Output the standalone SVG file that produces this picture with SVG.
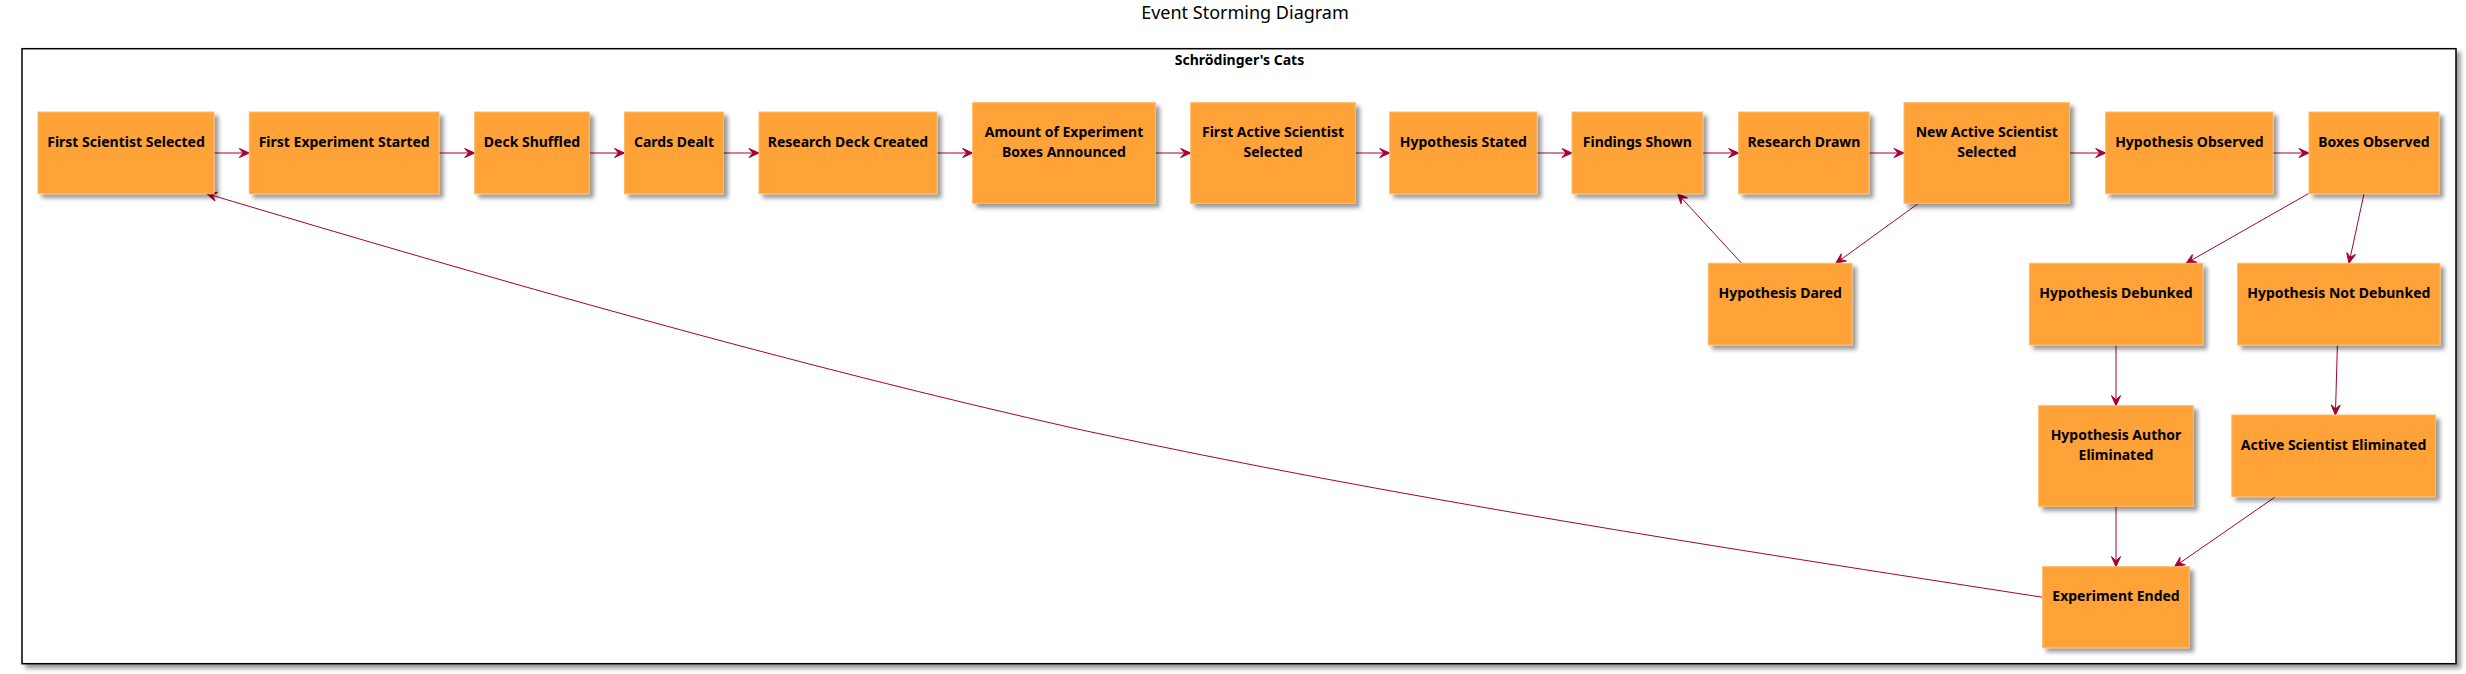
<svg xmlns="http://www.w3.org/2000/svg" width="2466" height="674" viewBox="0 0 2466 674">
<style>
.bg{fill:#FFFFFF}
.node rect{fill:#FFA238;stroke:#FFBA66;stroke-width:1;filter:url(#sh)}
.lbl{font-family:"Noto Sans","Liberation Sans",sans-serif;font-size:14px;font-weight:bold;fill:#000000;text-anchor:middle}
.edge{fill:none;stroke:#A80036;stroke-width:1;marker-end:url(#arr)}
.title{font-family:"Noto Sans","Liberation Sans",sans-serif;font-size:18px;fill:#000000;text-anchor:middle}
.frame{fill:#FFFFFF;stroke:#000000;stroke-width:1.5;filter:url(#sh)}
</style>
<defs>
<filter id="sh" x="-10%" y="-10%" width="130%" height="130%">
<feDropShadow dx="4" dy="4" stdDeviation="2" flood-color="#000000" flood-opacity="0.4"/>
</filter>
<marker id="arr" markerUnits="userSpaceOnUse" viewBox="-12 -6 14 12" refX="0" refY="0" markerWidth="14" markerHeight="12" orient="auto" overflow="visible">
<path d="M0,0 L-10,-4.5 L-6,0 L-10,4.5 Z" fill="#A80036" stroke="#A80036" stroke-width="1"/>
</marker>
</defs>
<rect class="bg" x="0" y="0" width="2466" height="674"/>
<text class="title" x="1245" y="19">Event Storming Diagram</text>
<g id="frame">
<rect class="frame" x="22" y="48.7" width="2434" height="615"/>
<text class="lbl" x="1239.5" y="64.5">Schrödinger's Cats</text>
</g>
<g id="connectors">
<path class="edge" d="M214,153 L249.3,153"/>
<path class="edge" d="M439,153 L474.7,153"/>
<path class="edge" d="M589.3,153 L624.5,153"/>
<path class="edge" d="M723.5,153 L759,153"/>
<path class="edge" d="M937,153 L972.7,153"/>
<path class="edge" d="M1155.3,153 L1190.7,153"/>
<path class="edge" d="M1355.3,153 L1389.7,153"/>
<path class="edge" d="M1537,153 L1572,153"/>
<path class="edge" d="M1702.6,153 L1738.7,153"/>
<path class="edge" d="M1869,153 L1904,153"/>
<path class="edge" d="M2069.5,153 L2105.7,153"/>
<path class="edge" d="M2273,153 L2309,153"/>
<path class="edge" d="M1741.6,263.3 L1677.6,193.7"/>
<path class="edge" d="M1918.5,203.3 L1835.8,263.3"/>
<path class="edge" d="M2308.3,193.7 L2186,263.3"/>
<path class="edge" d="M2364,193.7 L2349,263.3"/>
<path class="edge" d="M2116,345 L2116,405.7"/>
<path class="edge" d="M2337.4,345 L2335.4,415"/>
<path class="edge" d="M2116,505.7 L2116,566.7"/>
<path class="edge" d="M2275.5,496.7 L2174.5,566.7"/>
<path class="edge" d="M2042.7,597.3 C1722.7,547.7 1401.7,498.8 1081.7,430 C791.7,365 496.7,280.3 206.7,193.7"/>
</g>
<g id="n1" class="node"><rect x="38" y="112" width="176" height="81.7"/><text class="lbl" x="126" y="147">First Scientist Selected</text></g>
<g id="n2" class="node"><rect x="249.3" y="112" width="189.7" height="81.7"/><text class="lbl" x="344.2" y="147">First Experiment Started</text></g>
<g id="n3" class="node"><rect x="474.7" y="112" width="114.6" height="81.7"/><text class="lbl" x="532" y="147">Deck Shuffled</text></g>
<g id="n4" class="node"><rect x="624.5" y="112" width="99" height="81.7"/><text class="lbl" x="674" y="147">Cards Dealt</text></g>
<g id="n5" class="node"><rect x="759" y="112" width="178" height="81.7"/><text class="lbl" x="848" y="147">Research Deck Created</text></g>
<g id="n6" class="node"><rect x="972.7" y="102.7" width="182.6" height="100.6"/><text class="lbl" x="1064" y="137.3">Amount of Experiment</text><text class="lbl" x="1064" y="157">Boxes Announced</text></g>
<g id="n7" class="node"><rect x="1190.7" y="102.7" width="164.6" height="100.6"/><text class="lbl" x="1273" y="137.3">First Active Scientist</text><text class="lbl" x="1273" y="157">Selected</text></g>
<g id="n8" class="node"><rect x="1389.7" y="112" width="147.3" height="81.7"/><text class="lbl" x="1463.4" y="147">Hypothesis Stated</text></g>
<g id="n9" class="node"><rect x="1572" y="112" width="130.6" height="81.7"/><text class="lbl" x="1637.3" y="147">Findings Shown</text></g>
<g id="n10" class="node"><rect x="1738.7" y="112" width="130.3" height="81.7"/><text class="lbl" x="1803.9" y="147">Research Drawn</text></g>
<g id="n11" class="node"><rect x="1904" y="102.7" width="165.5" height="100.6"/><text class="lbl" x="1986.8" y="137.3">New Active Scientist</text><text class="lbl" x="1986.8" y="157">Selected</text></g>
<g id="n12" class="node"><rect x="2105.7" y="112" width="167.3" height="81.7"/><text class="lbl" x="2189.4" y="147">Hypothesis Observed</text></g>
<g id="n13" class="node"><rect x="2309" y="112" width="130" height="81.7"/><text class="lbl" x="2374" y="147">Boxes Observed</text></g>
<g id="n14" class="node"><rect x="1708.3" y="263.3" width="143.7" height="81.7"/><text class="lbl" x="1780.2" y="298.3">Hypothesis Dared</text></g>
<g id="n15" class="node"><rect x="2029.4" y="263.3" width="173.3" height="81.7"/><text class="lbl" x="2116" y="298.3">Hypothesis Debunked</text></g>
<g id="n16" class="node"><rect x="2237.5" y="263.3" width="202.5" height="81.7"/><text class="lbl" x="2338.8" y="298.3">Hypothesis Not Debunked</text></g>
<g id="n17" class="node"><rect x="2038.7" y="405.7" width="154.6" height="100.6"/><text class="lbl" x="2116" y="440">Hypothesis Author</text><text class="lbl" x="2116" y="459.7">Eliminated</text></g>
<g id="n18" class="node"><rect x="2231.8" y="415" width="203.5" height="81.7"/><text class="lbl" x="2333.5" y="450">Active Scientist Eliminated</text></g>
<g id="n19" class="node"><rect x="2042.7" y="566.7" width="146.6" height="81"/><text class="lbl" x="2116" y="601">Experiment Ended</text></g>
</svg>
